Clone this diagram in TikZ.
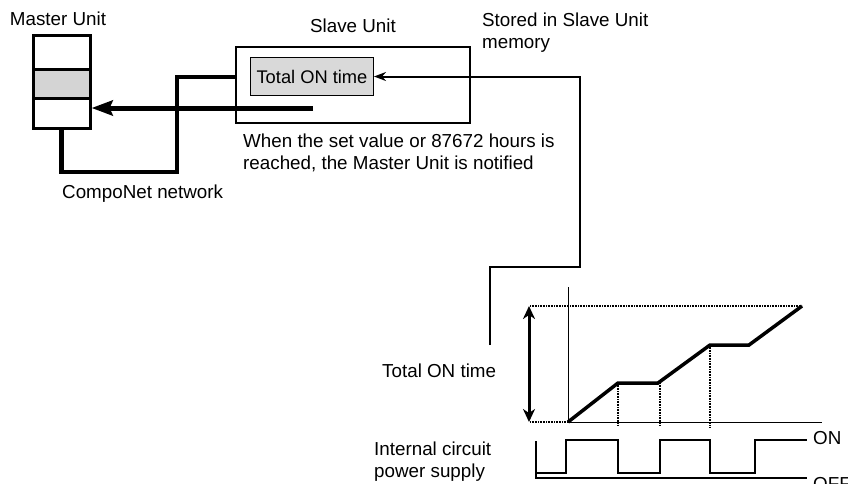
\documentclass[tikz,border=0pt]{standalone}
\usepackage{fontspec}
\setmainfont{Liberation Sans}
\usetikzlibrary{arrows.meta}
\begin{document}
\begin{tikzpicture}[x=1pt,y=-1pt,
  lbl/.style={inner sep=0pt,font=\fontsize{18.8}{21.5}\selectfont},
  boxline/.style={draw=black,line width=2pt},
  dotline/.style={line width=1.6pt,dash pattern=on 0.8pt off 0.8pt},
  ax/.style={line width=1pt},
  wave/.style={line width=1.3pt}]
\useasboundingbox (0,0) rectangle (848,483);
% Master unit
\node[draw=black,line width=2.6pt,minimum width=57pt,minimum height=93pt,inner sep=0pt,anchor=north west] (master) at (32,34) {};
\node[draw=black,line width=2.6pt,fill=black!17,minimum width=57pt,minimum height=29pt,inner sep=0pt,anchor=north west] (band) at (32,68) {};
\node[lbl,anchor=base] (mlbl) at (58,25) {Master Unit};
% Slave unit
\node[boxline,minimum width=234pt,minimum height=76pt,inner sep=0pt,anchor=north west] (slave) at (235,46) {};
\node[lbl,anchor=base] (slbl) at (353,32) {Slave Unit};
\node[draw=black,line width=1pt,fill=black!15,minimum width=123pt,minimum height=38pt,inner sep=0pt,anchor=north west,font=\fontsize{18.3}{21.5}\selectfont] (total) at (250,57) {Total ON time};
% labels (base anchor = baseline of last line)
\node[lbl,anchor=base west,align=left] (stored) at (482,48) {Stored in Slave Unit\\memory};
\node[lbl,anchor=base west,align=left] (when) at (243,169) {When the set value or 87672 hours is\\reached, the Master Unit is notified};
\node[lbl,anchor=base west] (cnet) at (62,198) {CompoNet network};
\node[lbl,anchor=base west] (tot) at (382,377) {Total ON time};
\node[lbl,anchor=base west,align=left] (ics) at (374,477) {Internal circuit\\power supply};
\node[lbl,anchor=base west] (on) at (813,444) {ON};
\node[lbl,anchor=base west] (off) at (813,490) {OFF};
% network
\coordinate (nb) at (61,172);
\coordinate (nc) at (177,172);
\coordinate (nd) at (177,77);
\draw[line width=5pt] (master.south -| nb) -- ([yshift=-1.5pt]nb);
\draw[line width=3.2pt,line join=miter] (nb) -- (nc) -- (nd) -- (nd -| slave.west);
% notification arrow
\coordinate (ns) at (313,108);
\draw[line width=5pt,-{Stealth[length=21pt,width=15pt,inset=3pt]}] (ns) -- (ns -| master.east);
% feedback line
\coordinate (fa) at (490,345);
\coordinate (fb) at (490,267);
\coordinate (fc) at (580,267);
\draw[line width=2pt,-{Stealth[length=12pt,width=9pt]}] (fa) -- (fb) -- (fc) -- (fc |- total.east) -- (total.east);
% chart
\coordinate (o) at (568,422);
\draw[ax] (568,287) -- (o) -- (822,422);
\draw[dotline] (530,306) -- (802,306);
\draw[dotline] (530,422) -- (o);
\draw[line width=3pt,{Stealth[length=13pt,width=12pt,inset=4pt]}-{Stealth[length=13pt,width=12pt,inset=4pt]}] (529,306) -- (529,422);
\draw[line width=3.5pt,line join=miter] (o) -- (618,383) -- (658,383) -- (710,345) -- (749,345) -- (802,306);
\draw[dotline] (618,383) -- (618,425);
\draw[dotline] (660,383) -- (660,425);
\draw[dotline] (710,345) -- (710,427);
% wave
\draw[wave] (536,441) -- (536,478) -- (807,478);
\draw[wave] (536,473) -- (566,473) -- (566,440) -- (618,440) -- (618,473) -- (660,473) -- (660,440) -- (710,440) -- (710,473) -- (755,473) -- (755,440) -- (807,440);
\end{tikzpicture}
\end{document}
